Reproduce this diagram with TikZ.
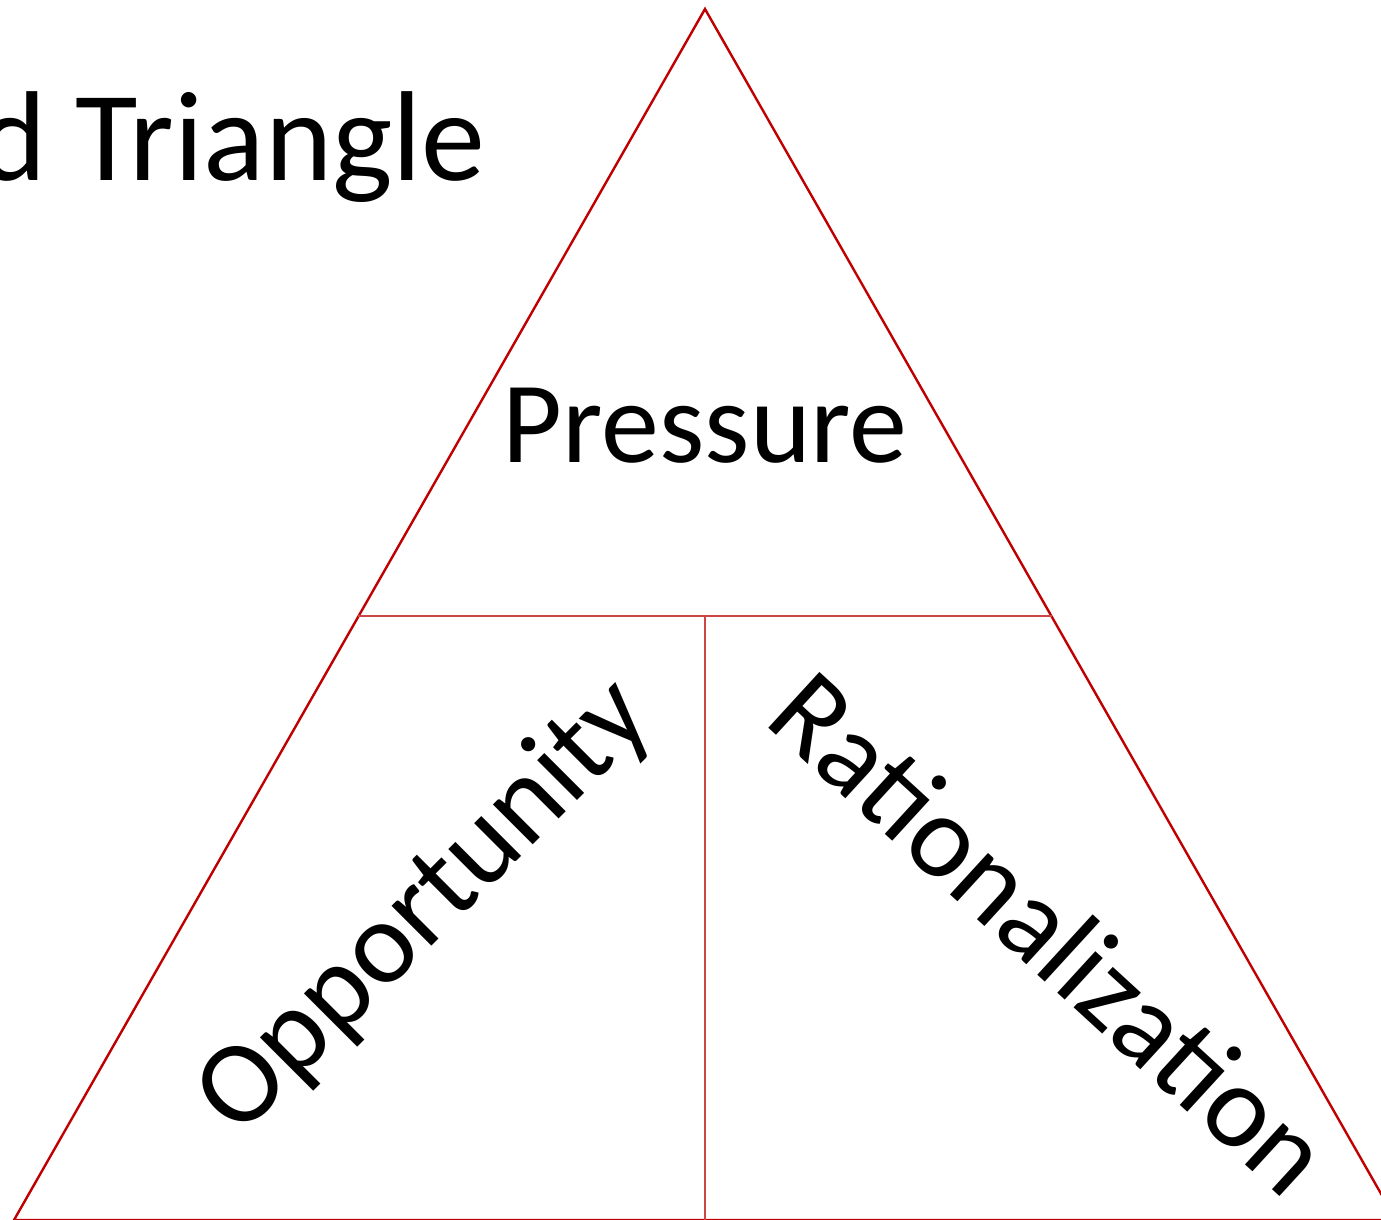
\documentclass[tikz,border=0pt]{standalone}
\usepackage{fontspec}
\setmainfont{Carlito}
\definecolor{tri}{RGB}{192,0,0}
\definecolor{divline}{RGB}{205,70,70}
\begin{document}
\begin{tikzpicture}[x=1pt,y=-1pt,
  edge/.style={draw=tri,line width=2.4pt},
  divider/.style={draw=divline,line width=1.8pt},
  label/.style={inner sep=0pt,text=black}]
\useasboundingbox (0,0) rectangle (1381,1220);
\clip (0,0) rectangle (1381,1220);
\fill[white] (0,0) rectangle (1381,1220);
\coordinate (apex) at (705,9);
\coordinate (bl) at (14,1220);
\coordinate (br) at (1396,1220);
\coordinate (ml) at (358,616);
\coordinate (mr) at (1052,616);
\coordinate (mm) at (705,616);
\coordinate (mb) at (705,1220);
\draw[edge] (apex) -- (bl) -- (br) -- cycle;
\draw[divider] (ml) -- (mr);
\draw[divider] (mm) -- (mb);
\node[label,anchor=base west,font=\fontsize{128}{140}\selectfont] (title) at (-21,180) {d Triangle};
\node[label,anchor=base,font=\fontsize{116}{130}\selectfont] (pressure) at (705,462) {Pressure};
\node[label,anchor=base,rotate=45,font=\fontsize{118}{130}\selectfont] (opportunity) at (448,930) {Opportunity};
\node[label,anchor=base,rotate=-42.5,font=\fontsize{118}{130}\selectfont] (rationalization) at (1024,962) {Rationalization};
\end{tikzpicture}
\end{document}
